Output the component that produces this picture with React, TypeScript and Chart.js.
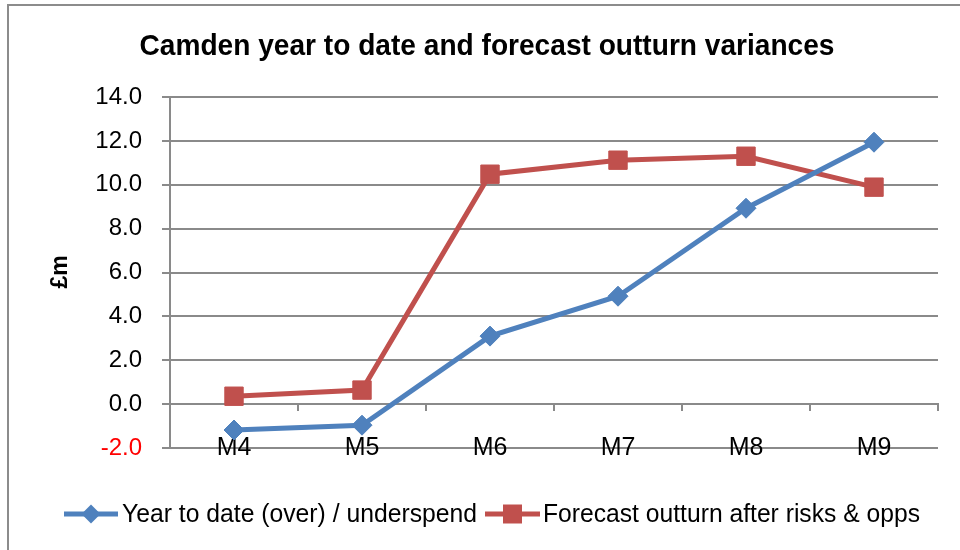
import React, { useEffect, useRef } from 'react';
import { Chart, registerables } from 'chart.js';

Chart.register(...registerables);

const chartTitle = 'Camden year to date and forecast outturn variances';
const yAxisTitle = '£m';
const categories = ['M4', 'M5', 'M6', 'M7', 'M8', 'M9'];
const yearToDate = [-1.18, -0.96, 3.1, 4.92, 8.93, 11.94];
const forecastOutturn = [0.36, 0.64, 10.48, 11.12, 11.3, 9.89];
const seriesNames = ['Year to date (over) / underspend', 'Forecast outturn after risks & opps'];
const yMin = -2;
const yMax = 14;
const yStep = 2;

const BLUE = '#4F81BD';
const RED = '#C0504D';
const GRID = '#8a8a8a';
const FONT = '"Liberation Sans", Arial, sans-serif';

function drawCondensed(ctx: CanvasRenderingContext2D, text: string, x: number, y: number, targetWidth: number, align: 'left' | 'center') {
  const w = ctx.measureText(text).width;
  const s = Math.min(1, targetWidth / w);
  ctx.save();
  ctx.translate(x, y);
  ctx.scale(s, 1);
  ctx.textAlign = align;
  ctx.fillText(text, 0, 0);
  ctx.restore();
}

const decorPlugin = {
  id: 'decor',
  beforeDraw(chart: any) {
    const ctx = chart.ctx as CanvasRenderingContext2D;
    ctx.save();
    ctx.fillStyle = '#ffffff';
    ctx.fillRect(0, 0, chart.width, chart.height);
    ctx.strokeStyle = '#8c8c8c';
    ctx.lineWidth = 2;
    ctx.beginPath();
    ctx.moveTo(8, chart.height);
    ctx.lineTo(8, 5);
    ctx.lineTo(chart.width, 5);
    ctx.stroke();
    ctx.restore();
  },
  afterDraw(chart: any) {
    const ctx = chart.ctx as CanvasRenderingContext2D;
    ctx.save();
    ctx.fillStyle = '#000000';
    ctx.textBaseline = 'alphabetic';
    // title
    ctx.font = `bold 30px ${FONT}`;
    drawCondensed(ctx, chartTitle, 487, 55, 695, 'center');
    // y axis title
    ctx.save();
    ctx.font = `bold 23px ${FONT}`;
    ctx.translate(67, 272);
    ctx.rotate(-Math.PI / 2);
    ctx.textAlign = 'center';
    ctx.fillText(yAxisTitle, 0, 0);
    ctx.restore();
    // legend
    const ly = 514;
    const items = [
      { name: seriesNames[0], color: BLUE, style: 'diamond', x0: 64, x1: 118, tx: 122, tw: 355 },
      { name: seriesNames[1], color: RED, style: 'square', x0: 485, x1: 540, tx: 543, tw: 377 },
    ];
    ctx.font = `25px ${FONT}`;
    ctx.textBaseline = 'middle';
    for (const it of items) {
      ctx.strokeStyle = it.color;
      ctx.lineWidth = 5;
      ctx.beginPath();
      ctx.moveTo(it.x0, ly);
      ctx.lineTo(it.x1, ly);
      ctx.stroke();
      const cx = (it.x0 + it.x1) / 2;
      ctx.fillStyle = it.color;
      ctx.beginPath();
      if (it.style === 'diamond') {
        ctx.moveTo(cx - 9.5, ly);
        ctx.lineTo(cx, ly - 9.5);
        ctx.lineTo(cx + 9.5, ly);
        ctx.lineTo(cx, ly + 9.5);
        ctx.closePath();
      } else {
        ctx.rect(cx - 9.5, ly - 9.5, 19, 19);
      }
      ctx.fill();
      ctx.fillStyle = '#000000';
      drawCondensed(ctx, it.name, it.tx, ly + 1, it.tw, 'left');
    }
    ctx.restore();
  },
};

export default function App() {
  const ref = useRef<HTMLCanvasElement | null>(null);
  useEffect(() => {
    if (!ref.current) return;
    const chart = new Chart(ref.current, {
      type: 'line',
      data: {
        labels: categories,
        datasets: [
          {
            label: seriesNames[0],
            data: yearToDate,
            borderColor: BLUE,
            backgroundColor: BLUE,
            borderWidth: 5,
            pointStyle: 'rectRot',
            pointRadius: 10,
            pointBorderWidth: 1,
            pointBorderColor: BLUE,
            pointBackgroundColor: BLUE,
            tension: 0,
            xAxisID: 'x',
            yAxisID: 'y',
          },
          {
            label: seriesNames[1],
            data: forecastOutturn,
            borderColor: RED,
            backgroundColor: RED,
            borderWidth: 5,
            pointStyle: 'rect',
            pointRadius: 13,
            pointBorderWidth: 1,
            pointBorderColor: RED,
            pointBackgroundColor: RED,
            tension: 0,
            xAxisID: 'x',
            yAxisID: 'y',
          },
        ],
      },
      options: {
        animation: false,
        responsive: false,
        maintainAspectRatio: false,
        layout: { padding: { top: 97, right: 22, bottom: 102, left: 0 } },
        plugins: {
          legend: { display: false },
          title: { display: false },
          tooltip: { enabled: false },
        },
        scales: {
          y: {
            type: 'linear',
            position: 'left',
            min: yMin,
            max: yMax,
            ticks: {
              stepSize: yStep,
              padding: 20,
              font: { family: FONT, size: 24 },
              color: (c: any) => (c.tick && c.tick.value < 0 ? '#ff0000' : '#000000'),
              callback: (v: any) => Number(v).toFixed(1),
            },
            grid: { color: GRID, lineWidth: 2, tickLength: 8, drawTicks: true },
            border: { display: true, color: GRID, width: 2 },
            afterFit: (s: any) => { s.width = 170; },
          },
          x: {
            type: 'category',
            position: { y: 0 } as any,
            offset: true,
            ticks: { display: true, padding: 23, font: { family: FONT, size: 25 }, color: '#000000', maxRotation: 0, autoSkip: false },
            grid: { offset: true, drawOnChartArea: false, drawTicks: true, tickLength: 6, color: GRID, lineWidth: 2 },
            border: { display: true, color: GRID, width: 2 },
            afterFit: (s: any) => { s.height = 0; },
          },
        },
      },
      plugins: [decorPlugin],
    });
    return () => chart.destroy();
  }, []);
  return (
    <div style={{ position: 'fixed', left: 0, top: 0, width: 960, height: 550 }}>
      <canvas ref={ref} width={960} height={550} style={{ width: 960, height: 550 }} />
    </div>
  );
}
